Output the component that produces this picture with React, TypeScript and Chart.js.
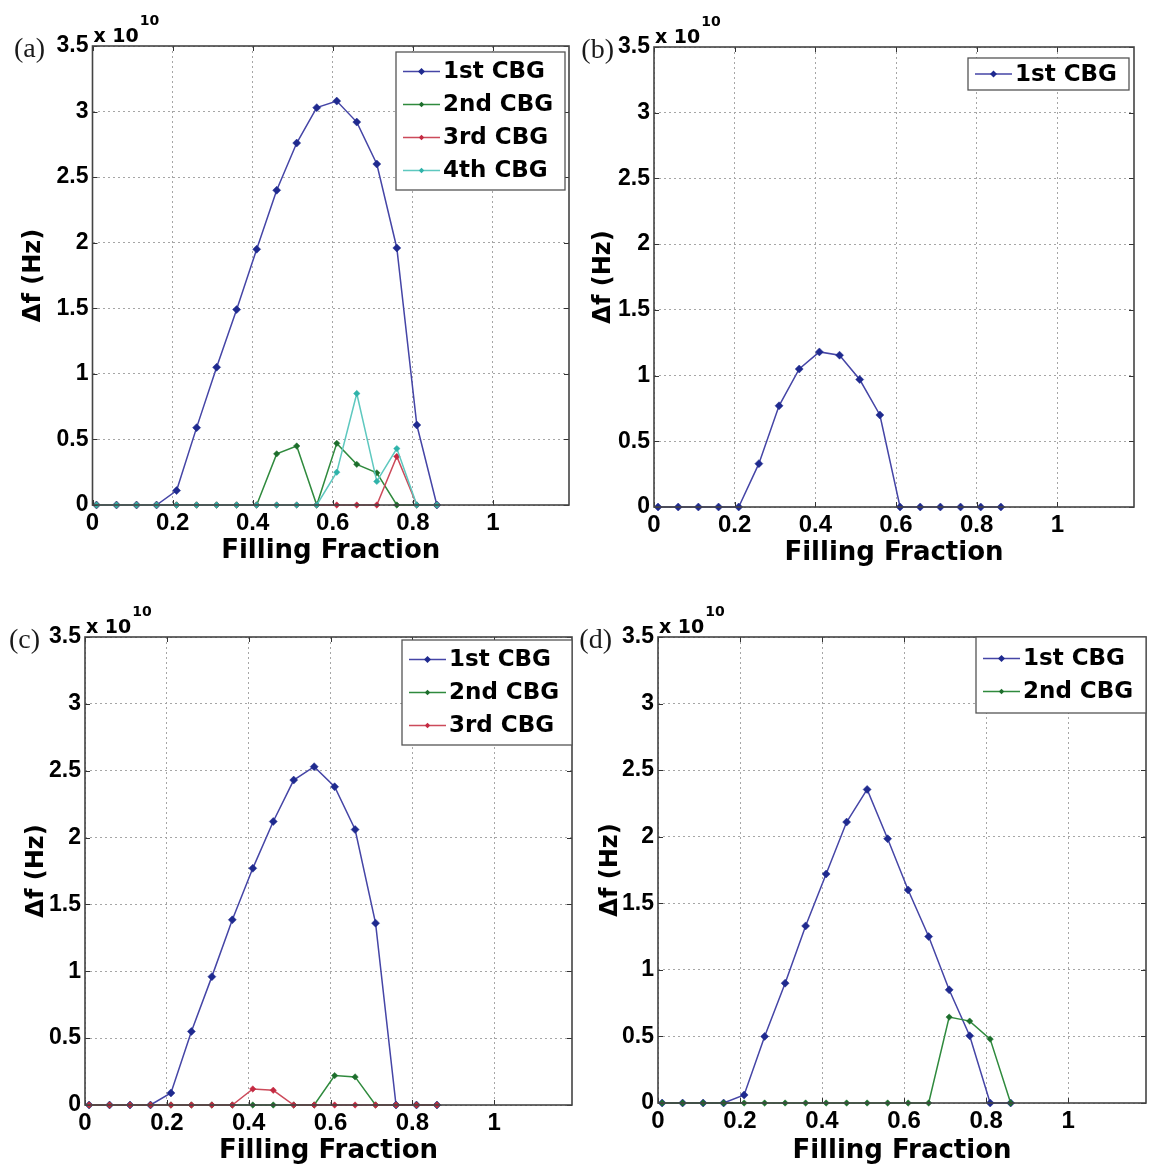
import React, { useEffect, useRef } from "react";
import { Chart, registerables } from "chart.js";

Chart.register(...registerables);

// Filling fractions sampled in every panel
const FILLING = [0.01, 0.06, 0.11, 0.16, 0.21, 0.26, 0.31, 0.36, 0.41, 0.46, 0.51, 0.56, 0.61, 0.66, 0.71, 0.76, 0.81, 0.86];

const X_TICKS = [0, 0.2, 0.4, 0.6, 0.8, 1];
const X_TICK_LABELS = ["0", "0.2", "0.4", "0.6", "0.8", "1"];
const Y_TICKS = [0, 0.5, 1, 1.5, 2, 2.5, 3, 3.5];
const Y_TICK_LABELS = ["0", "0.5", "1", "1.5", "2", "2.5", "3", "3.5"];
const X_MAX = 1.19;
const Y_MAX = 3.5;

const SERIES_NAMES = ["1st CBG", "2nd CBG", "3rd CBG", "4th CBG"];

// Band-gap widths Δf, in units of 10^10 Hz
const A_CBG1 = [0, 0, 0, 0, 0.11, 0.59, 1.05, 1.49, 1.95, 2.4, 2.76, 3.03, 3.08, 2.92, 2.6, 1.96, 0.61, 0];
const A_CBG2 = [0, 0, 0, 0, 0, 0, 0, 0, 0, 0.39, 0.45, 0, 0.47, 0.31, 0.245, 0, 0, 0];
const A_CBG3 = [0, 0, 0, 0, 0, 0, 0, 0, 0, 0, 0, 0, 0, 0, 0, 0.37, 0, 0];
const A_CBG4 = [0, 0, 0, 0, 0, 0, 0, 0, 0, 0, 0, 0, 0.25, 0.85, 0.18, 0.43, 0, 0];

const B_CBG1 = [0, 0, 0, 0, 0, 0.33, 0.77, 1.05, 1.18, 1.155, 0.97, 0.7, 0, 0, 0, 0, 0, 0];

const C_CBG1 = [0, 0, 0, 0, 0.09, 0.55, 0.96, 1.385, 1.77, 2.12, 2.43, 2.53, 2.38, 2.06, 1.36, 0, 0, 0];
const C_CBG2 = [0, 0, 0, 0, 0, 0, 0, 0, 0, 0, 0, 0, 0.22, 0.21, 0, 0, 0, 0];
const C_CBG3 = [0, 0, 0, 0, 0, 0, 0, 0, 0.12, 0.11, 0, 0, 0, 0, 0, 0, 0, 0];

const D_CBG1 = [0, 0, 0, 0, 0.06, 0.5, 0.9, 1.33, 1.72, 2.11, 2.355, 1.985, 1.6, 1.25, 0.85, 0.505, 0, 0];
const D_CBG2 = [0, 0, 0, 0, 0, 0, 0, 0, 0, 0, 0, 0, 0, 0, 0.645, 0.615, 0.48, 0];

const SERIES_STYLE = [
  { line: "#4545a6", marker: "#1f2a8f", radius: 4 },
  { line: "#2f8a3d", marker: "#1d6e2c", radius: 3.2 },
  { line: "#cc4a5a", marker: "#c42a42", radius: 3.2 },
  { line: "#5ec8bf", marker: "#2fb3aa", radius: 3.2 },
];

const SANS = "'DejaVu Sans', 'Liberation Sans', Arial, sans-serif";
const TICK_SANS = "'Liberation Sans', Arial, sans-serif";

type Box = { l: number; t: number; r: number; b: number };
type LegendBox = { inR: number; inT: number; w: number; h: number };
type Panel = {
  tag: string;
  left: number;
  top: number;
  width: number;
  height: number;
  plot: Box;
  yTitleX: number;
  xTitleY: number;
  tagRight: number;
  legend: LegendBox;
  series: number[][];
};

const PANELS: Panel[] = [
  {
    tag: "(a)", left: 0, top: 0, width: 577, height: 585,
    plot: { l: 92.5, t: 46, r: 569, b: 505 }, yTitleX: 34, xTitleY: 551, tagRight: 45,
    legend: { inR: 4, inT: 6, w: 169, h: 138 },
    series: [A_CBG1, A_CBG2, A_CBG3, A_CBG4],
  },
  {
    tag: "(b)", left: 577, top: 0, width: 578, height: 585,
    plot: { l: 77, t: 47, r: 557, b: 507 }, yTitleX: 27, xTitleY: 553, tagRight: 37,
    legend: { inR: 5, inT: 11, w: 161, h: 32 },
    series: [B_CBG1],
  },
  {
    tag: "(c)", left: 0, top: 585, width: 577, height: 586,
    plot: { l: 85, t: 52, r: 572, b: 520 }, yTitleX: 37, xTitleY: 566, tagRight: 40,
    legend: { inR: 0, inT: 3, w: 170, h: 105 },
    series: [C_CBG1, C_CBG2, C_CBG3],
  },
  {
    tag: "(d)", left: 577, top: 585, width: 578, height: 586,
    plot: { l: 81, t: 52, r: 569, b: 518 }, yTitleX: 34, xTitleY: 566, tagRight: 35,
    legend: { inR: 0, inT: 0, w: 170, h: 76 },
    series: [D_CBG1, D_CBG2],
  },
];

function makeDecorations(p: Panel) {
  return {
    id: "matlabFrame",
    afterDraw(chart: any) {
      const { ctx, chartArea } = chart;
      const { left, top, right, bottom } = chartArea;
      const xs = chart.scales.x;
      const ys = chart.scales.y;
      ctx.save();

      // inward tick marks on all four sides
      ctx.strokeStyle = "#333";
      ctx.lineWidth = 1;
      ctx.beginPath();
      for (const v of X_TICKS) {
        const px = Math.round(xs.getPixelForValue(v)) + 0.5;
        ctx.moveTo(px, bottom);
        ctx.lineTo(px, bottom - 5);
        ctx.moveTo(px, top);
        ctx.lineTo(px, top + 5);
      }
      for (const v of Y_TICKS) {
        const py = Math.round(ys.getPixelForValue(v)) + 0.5;
        ctx.moveTo(left, py);
        ctx.lineTo(left + 5, py);
        ctx.moveTo(right, py);
        ctx.lineTo(right - 5, py);
      }
      ctx.stroke();

      // axes box
      ctx.strokeStyle = "#444";
      ctx.lineWidth = 1.6;
      ctx.strokeRect(left, top, right - left, bottom - top);

      // legend
      const n = p.series.length;
      const lg = p.legend;
      const bx = right - lg.inR - lg.w;
      const by = top + lg.inT;
      ctx.fillStyle = "#fff";
      ctx.fillRect(bx, by, lg.w, lg.h);
      ctx.strokeStyle = "#555";
      ctx.lineWidth = 1.3;
      ctx.strokeRect(bx, by, lg.w, lg.h);
      const rowH = 33;
      const pad = (lg.h - rowH * (n - 1)) / 2;
      ctx.font = `bold 23px ${SANS}`;
      ctx.textBaseline = "middle";
      ctx.textAlign = "left";
      for (let i = 0; i < n; i++) {
        const cy = by + pad + rowH * i;
        const st = SERIES_STYLE[i];
        ctx.strokeStyle = st.line;
        ctx.lineWidth = 1.5;
        ctx.beginPath();
        ctx.moveTo(bx + 7, cy);
        ctx.lineTo(bx + 44, cy);
        ctx.stroke();
        ctx.fillStyle = st.marker;
        ctx.beginPath();
        const mx = bx + 25.5;
        const r = st.radius - 0.5;
        ctx.moveTo(mx, cy - r);
        ctx.lineTo(mx + r, cy);
        ctx.lineTo(mx, cy + r);
        ctx.lineTo(mx - r, cy);
        ctx.closePath();
        ctx.fill();
        ctx.fillStyle = "#000";
        ctx.fillText(SERIES_NAMES[i], bx + 47, cy + 1);
      }

      // exponent above the y axis
      ctx.fillStyle = "#000";
      ctx.textBaseline = "alphabetic";
      ctx.font = `bold 19px ${SANS}`;
      const base = "x 10";
      ctx.fillText(base, left + 1, top - 4);
      const w = ctx.measureText(base).width;
      ctx.font = `bold 14px ${SANS}`;
      ctx.fillText("10", left + 2 + w, top - 21);

      // panel tag
      ctx.font = "28px 'Liberation Serif', 'Times New Roman', serif";
      ctx.textAlign = "right";
      ctx.fillStyle = "#1a1a1a";
      ctx.fillText(p.tag, p.tagRight, top + 11);

      ctx.restore();
    },
  };
}

function PanelChart({ p }: { p: Panel }) {
  const ref = useRef<HTMLCanvasElement | null>(null);

  useEffect(() => {
    if (!ref.current) return;
    const xTitleSize = 26;
    const yTitleSize = 24;
    const datasets = p.series.map((ys, i) => {
      const st = SERIES_STYLE[i];
      return {
        label: SERIES_NAMES[i],
        data: FILLING.map((x, k) => ({ x, y: ys[k] })),
        borderColor: st.line,
        backgroundColor: st.marker,
        borderWidth: 1.5,
        pointStyle: "rectRot" as const,
        pointRadius: st.radius,
        pointBackgroundColor: st.marker,
        pointBorderColor: st.marker,
        pointBorderWidth: 0.5,
        tension: 0,
        clip: false as const,
        order: p.series.length - i,
      };
    });

    const chart = new Chart(ref.current, {
      type: "line",
      data: { datasets },
      plugins: [makeDecorations(p)],
      options: {
        responsive: false,
        animation: false,
        devicePixelRatio: 1,
        layout: { padding: { left: 0, top: p.plot.t, right: p.width - p.plot.r, bottom: 0 } },
        plugins: { legend: { display: false }, tooltip: { enabled: false } },
        scales: {
          x: {
            type: "linear",
            min: 0,
            max: X_MAX,
            afterBuildTicks: (s: any) => {
              s.ticks = X_TICKS.map((v) => ({ value: v }));
            },
            afterFit: (s: any) => {
              s.height = p.height - p.plot.b;
            },
            ticks: {
              callback: (_v: any, i: number) => X_TICK_LABELS[i],
              font: { family: TICK_SANS, size: 24, weight: "bold" },
              color: "#000",
              padding: 4,
              maxRotation: 0,
              autoSkip: false,
            },
            grid: { color: "#a6a6a6", lineWidth: 1, drawTicks: false },
            border: { display: false, dash: [2, 3] },
            title: {
              display: true,
              text: "Filling Fraction",
              color: "#000",
              font: { family: SANS, size: xTitleSize, weight: "bold" },
              padding: { top: 0, bottom: p.height - p.xTitleY - (xTitleSize * 1.2) / 2 },
            },
          },
          y: {
            type: "linear",
            min: 0,
            max: Y_MAX,
            afterBuildTicks: (s: any) => {
              s.ticks = Y_TICKS.map((v) => ({ value: v }));
            },
            afterFit: (s: any) => {
              s.width = p.plot.l;
            },
            ticks: {
              callback: (_v: any, i: number) => Y_TICK_LABELS[i],
              font: { family: TICK_SANS, size: 23, weight: "bold" },
              color: "#000",
              padding: 4,
              autoSkip: false,
            },
            grid: { color: "#a6a6a6", lineWidth: 1, drawTicks: false },
            border: { display: false, dash: [2, 3] },
            title: {
              display: true,
              text: "Δf (Hz)",
              color: "#000",
              font: { family: SANS, size: yTitleSize, weight: "bold" },
              padding: { top: p.yTitleX - (yTitleSize * 1.2) / 2, bottom: 0 },
            },
          },
        },
      } as any,
    });
    return () => chart.destroy();
  }, [p]);

  return (
    <canvas
      ref={ref}
      width={p.width}
      height={p.height}
      style={{ position: "absolute", left: p.left, top: p.top, width: p.width, height: p.height }}
    />
  );
}

export default function App() {
  return (
    <div style={{ position: "absolute", left: 0, top: 0, width: 1155, height: 1171, background: "#fff", overflow: "hidden" }}>
      {PANELS.map((p) => (
        <PanelChart key={p.tag} p={p} />
      ))}
    </div>
  );
}
